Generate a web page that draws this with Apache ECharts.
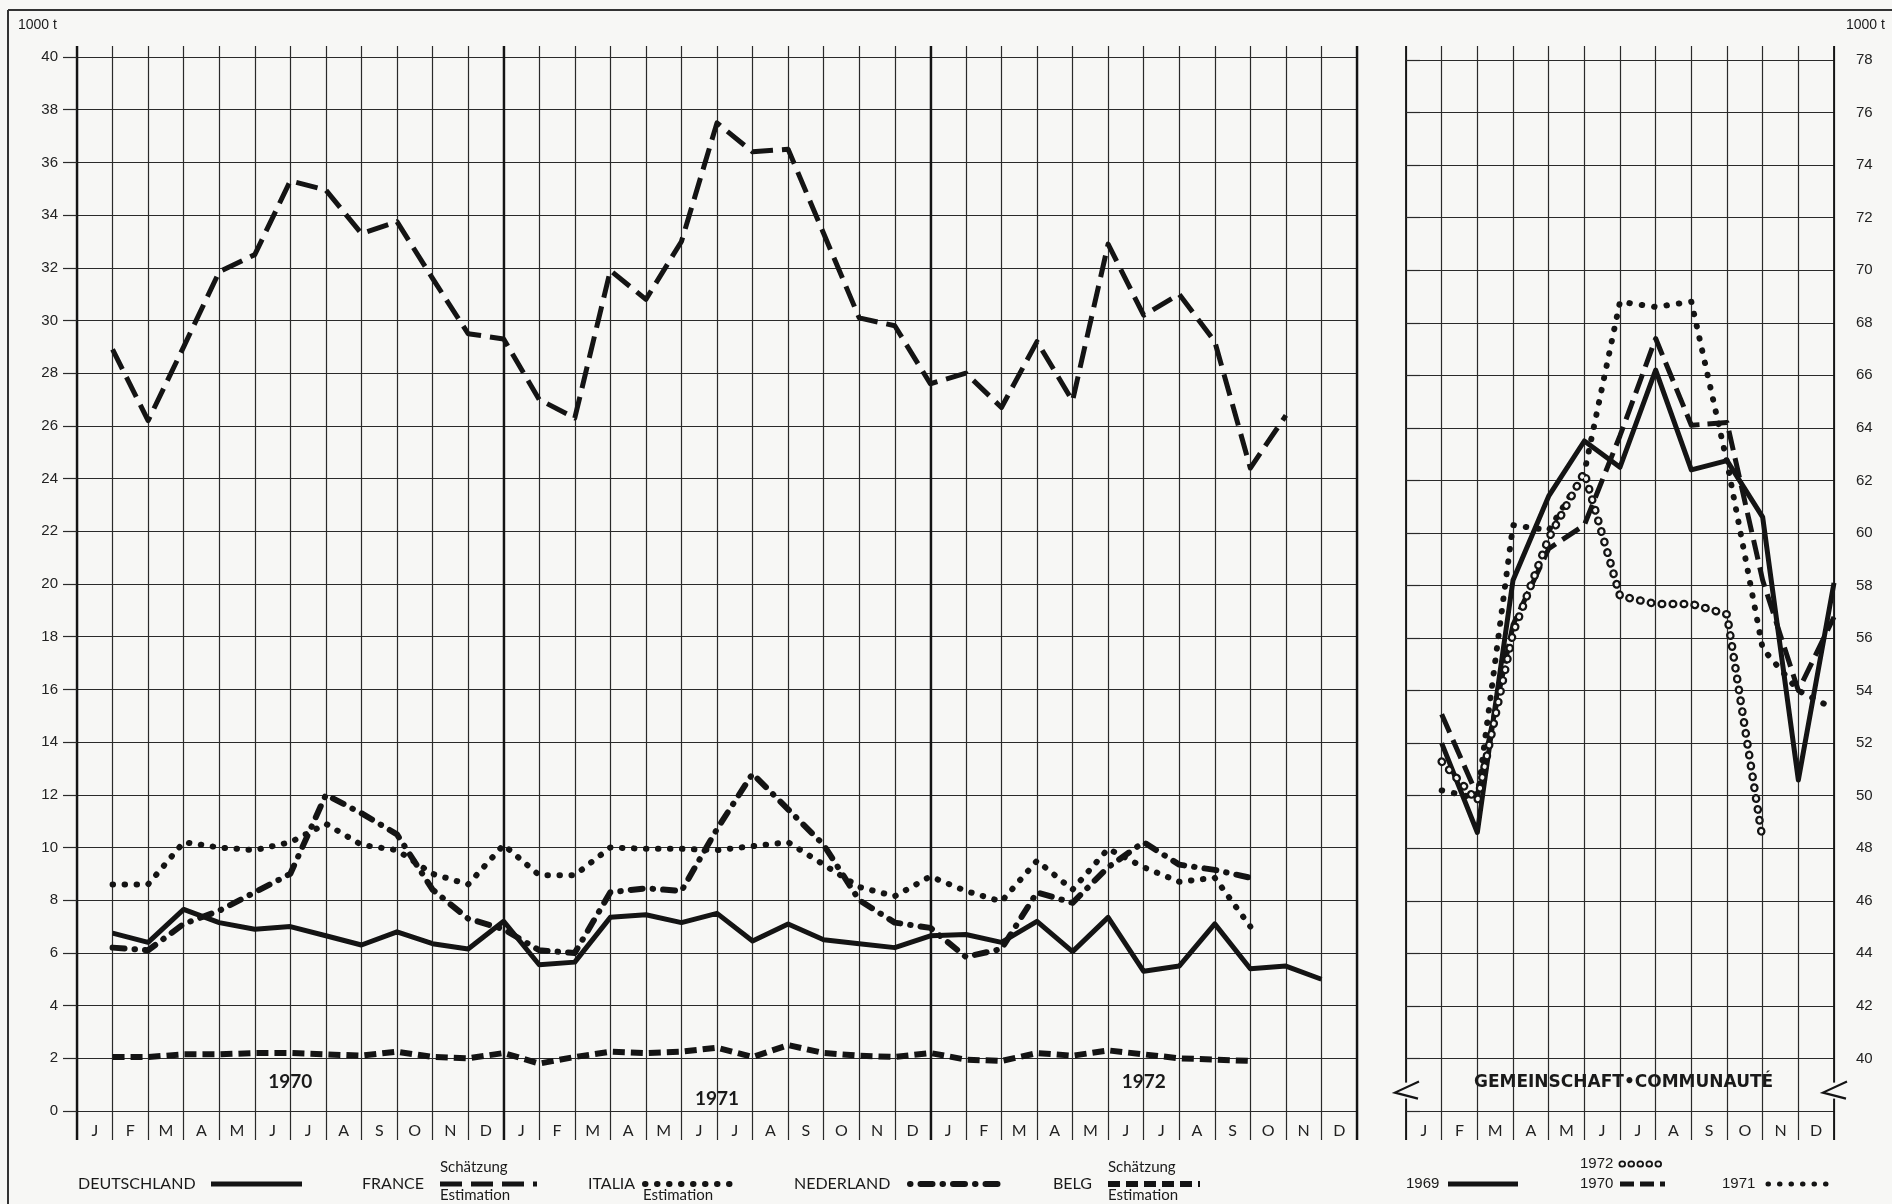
<!DOCTYPE html>
<html><head><meta charset="utf-8">
<script src="https://cdn.jsdelivr.net/npm/echarts@6/dist/echarts.min.js"></script>
<style>html,body{margin:0;padding:0;background:#f7f7f5;} #c{width:1892px;height:1204px;}</style>
</head><body><div id="c"></div>
<script>
// ---- data ----
const monthLabels = ['J','F','M','A','M','J','J','A','S','O','N','D'];
const yearLabels = ['1970','1971','1972'];
const deutschland = [6.75,6.4,7.65,7.15,6.9,7.0,6.65,6.3,6.8,6.35,6.15,7.2,
                     5.55,5.65,7.35,7.45,7.15,7.5,6.45,7.1,6.5,6.35,6.2,6.65,
                     6.7,6.4,7.2,6.05,7.35,5.3,5.5,7.1,5.4,5.5,5.0,null];
const france = [28.9,26.2,29.0,31.85,32.5,35.3,34.95,33.3,33.75,31.6,29.5,29.3,
                27.0,26.3,31.9,30.8,33.0,37.5,36.4,36.5,33.3,30.1,29.8,27.6,
                28.0,26.7,29.2,26.95,32.9,30.2,31.0,29.2,24.4,26.4,null,null];
const italia = [8.6,8.6,10.2,10.0,9.9,10.2,10.9,10.1,9.9,9.0,8.6,10.1,
                8.95,8.95,10.0,9.95,9.95,9.9,10.05,10.2,9.35,8.5,8.15,8.9,
                8.35,7.95,9.5,8.4,9.95,9.25,8.7,8.85,7.0,null,null,null];
const nederland = [6.2,6.1,7.1,7.6,8.3,9.0,12.0,11.3,10.5,8.4,7.3,6.9,
                   6.1,6.0,8.3,8.45,8.35,10.7,12.8,11.45,10.1,8.0,7.15,6.95,
                   5.85,6.15,8.3,7.9,9.25,10.2,9.35,9.15,8.85,null,null,null];
const belg = [2.05,2.05,2.15,2.15,2.2,2.2,2.15,2.1,2.25,2.05,2.0,2.2,
              1.8,2.05,2.25,2.2,2.25,2.4,2.05,2.5,2.2,2.1,2.05,2.2,
              1.95,1.9,2.2,2.1,2.3,2.15,2.0,1.95,1.9,null,null,null];
const eg1969 = [52.0,48.6,58.2,61.4,63.5,62.5,66.2,62.4,62.75,60.6,50.6,58.1];
const eg1970 = [53.1,50.0,56.5,59.4,60.3,63.7,67.4,64.1,64.2,58.2,54.0,56.8];
const eg1971 = [50.2,49.9,60.3,60.1,62.3,68.8,68.6,68.8,62.7,55.6,54.0,53.3];
const eg1972 = [51.3,49.8,56.2,59.8,62.3,57.6,57.3,57.3,56.9,48.3];

// ---- helpers ----
const INK = '#141414', BG = '#f7f7f5', GRID = '#2a2a2a';
const pts = arr => arr.map((v,i) => v == null ? null : [i + 1, v]).filter(p => p);
const monthCats36 = [].concat(monthLabels, monthLabels, monthLabels);
const numFont = "'Liberation Sans Narrow','Liberation Sans',Arial,sans-serif";
const txtFont = "Lato,'DejaVu Sans',sans-serif";

function line(name, data, xi, yi, ls) {
  return { name, type: 'line', xAxisIndex: xi, yAxisIndex: yi, data, symbol: 'none',
    silent: true, z: 5, lineStyle: Object.assign({ color: INK, width: 5, join: 'round' }, ls) };
}

const chart = echarts.init(document.getElementById('c'), null, { renderer: 'canvas' });
const option = {
  backgroundColor: BG,
  animation: false,
  grid: [
    { left: 77, top: 57, width: 1280, height: 1054 },
    { left: 77, top: 46, width: 1280, height: 1094 },
    { left: 1406, top: 60, width: 428, height: 1051 },
    { left: 1406, top: 46, width: 428, height: 1094 }
  ],
  xAxis: [
    { gridIndex: 0, type: 'category', data: monthCats36, boundaryGap: true,
      axisLine: { show: false }, axisTick: { show: false }, splitLine: { show: false },
      axisLabel: { margin: 12, fontSize: 16, color: '#222', fontFamily: txtFont, interval: 0 } },
    { gridIndex: 0, type: 'value', min: 0, max: 36, show: false },
    { gridIndex: 1, type: 'value', min: 0, max: 36, interval: 1, axisLine: { show: false },
      axisTick: { show: false }, axisLabel: { show: false },
      splitLine: { show: true, lineStyle: { color: GRID, width: 1.2 } } },
    { gridIndex: 1, type: 'value', min: 0, max: 36, interval: 12, axisLine: { show: false },
      axisTick: { show: false }, axisLabel: { show: false },
      splitLine: { show: true, lineStyle: { color: INK, width: 2.4 } } },
    { gridIndex: 2, type: 'category', data: monthLabels, boundaryGap: true,
      axisLine: { show: false }, axisTick: { show: false }, splitLine: { show: false },
      axisLabel: { margin: 12, fontSize: 16, color: '#222', fontFamily: txtFont, interval: 0 } },
    { gridIndex: 2, type: 'value', min: 0, max: 12, show: false },
    { gridIndex: 3, type: 'value', min: 0, max: 12, interval: 1, axisLine: { show: false },
      axisTick: { show: false }, axisLabel: { show: false },
      splitLine: { show: true, lineStyle: { color: GRID, width: 1.2 } } },
    { gridIndex: 3, type: 'value', min: 0, max: 12, interval: 12, axisLine: { show: false },
      axisTick: { show: false }, axisLabel: { show: false },
      splitLine: { show: true, lineStyle: { color: INK, width: 1.8 } } }
  ],
  yAxis: [
    { gridIndex: 0, type: 'value', min: 0, max: 40, interval: 2,
      axisLine: { show: false },
      axisTick: { show: true, length: 14, lineStyle: { color: GRID, width: 1.2 } },
      axisLabel: { margin: 19, fontSize: 15, color: '#222', fontFamily: numFont },
      splitLine: { show: true, lineStyle: { color: GRID, width: 1.2 } } },
    { gridIndex: 1, type: 'value', min: 0, max: 1, show: false },
    { gridIndex: 2, type: 'value', min: 38, max: 78, interval: 2, position: 'right',
      axisLine: { show: false },
      axisTick: { show: true, length: 14, lineStyle: { color: GRID, width: 1.2 } },
      axisLabel: { margin: 22, fontSize: 15, color: '#222', fontFamily: numFont,
        formatter: v => (v === 38 ? '' : String(v)) },
      splitLine: { show: true, lineStyle: { color: GRID, width: 1.2 } } },
    { gridIndex: 3, type: 'value', min: 0, max: 1, show: false }
  ],
  series: [
    line('DEUTSCHLAND', pts(deutschland), 1, 0, { type: 'solid' }),
    line('FRANCE', pts(france), 1, 0, { type: [22, 9], cap: 'butt' }),
    line('ITALIA', pts(italia), 1, 0, { width: 6, type: [0.5, 11.5], cap: 'round' }),
    line('NEDERLAND', pts(nederland), 1, 0, { width: 6, type: [12, 10, 0.5, 10], cap: 'round' }),
    line('BELG', pts(belg), 1, 0, { width: 6, type: [12, 6], cap: 'butt' }),
    line('1969', pts(eg1969), 5, 2, { type: 'solid' }),
    line('1970', pts(eg1970), 5, 2, { type: [20, 8], cap: 'butt' }),
    line('1971', pts(eg1971), 5, 2, { width: 6, type: [0.5, 12], cap: 'round' }),
    line('1972', pts(eg1972), 5, 2, { width: 8.5, type: [0.5, 10.5], cap: 'round' }),
    Object.assign(line('1972 inner', pts(eg1972), 5, 2, { width: 4, type: [0.5, 10.5], cap: 'round', color: BG }), { z: 6 })
  ]
};
chart.setOption(option);

// ---- annotations / legend ----
const g = [];
function txt(text, x, y, size, opts) {
  opts = opts || {};
  g.push({ type: 'text', z: 20, silent: true, style: {
    text, x, y, fill: opts.fill || '#1a1a1a',
    font: (opts.weight || 'normal') + ' ' + size + 'px ' + (opts.family || txtFont),
    align: opts.align || 'left', verticalAlign: 'middle',
    textAlign: opts.align || 'left', textVerticalAlign: 'middle' } });
}
function sample(x1, x2, y, style) {
  g.push({ type: 'line', z: 20, silent: true, shape: { x1, y1: y, x2, y2: y },
    style: Object.assign({ stroke: INK, lineWidth: 5 }, style) });
}
// frame
g.push({ type: 'line', silent: true, z: 1, shape: { x1: 8, y1: 10, x2: 1892, y2: 10 }, style: { stroke: '#333', lineWidth: 2 } });
g.push({ type: 'line', silent: true, z: 1, shape: { x1: 8, y1: 10, x2: 8, y2: 1204 }, style: { stroke: '#333', lineWidth: 2 } });
// unit labels
txt('1000 t', 18, 25, 14, { family: numFont });
txt('1000 t', 1846, 25, 14, { family: numFont });
// year labels, centred on each year's middle
const yearLabelVals = [1.1, 0.45, 1.1];
yearLabels.forEach((yl, i) => {
  const p = chart.convertToPixel({ xAxisIndex: 1, yAxisIndex: 0 }, [i * 12 + 6, yearLabelVals[i]]);
  txt(yl, p[0], p[1], 19, { weight: 'bold', align: 'center' });
});
// community title
{
  const p = chart.convertToPixel({ xAxisIndex: 5, yAxisIndex: 2 }, [6.1, 39.1]);
  txt('GEMEINSCHAFT\u2022COMMUNAUTÉ', p[0], p[1], 17, { weight: 'bold', align: 'center', family: "'DejaVu Sans',sans-serif" });
}
// break marks on the community panel
[0, 12].forEach(m => {
  const p = chart.convertToPixel({ xAxisIndex: 5, yAxisIndex: 2 }, [m, 38.7]);
  g.push({ type: 'rect', silent: true, z: 15, shape: { x: p[0] - 3, y: p[1] - 10, width: 6, height: 16 }, style: { fill: BG } });
  g.push({ type: 'polyline', silent: true, z: 16, shape: { points: [[p[0] + 13, p[1] - 11], [p[0] - 11, p[1]], [p[0] + 12, p[1] + 6]] },
    style: { stroke: INK, lineWidth: 2.2, fill: null } });
});
// legend – countries
const LY = 1184;
txt('DEUTSCHLAND', 78, LY, 16);
sample(211, 302, LY, {});
txt('FRANCE', 362, LY, 16);
txt('Schätzung', 440, 1167, 15);
sample(440, 537, LY, { lineDash: [22, 9] });
txt('Estimation', 440, 1195, 15);
txt('ITALIA', 588, LY, 16);
sample(645, 732, LY, { lineWidth: 6, lineDash: [0.5, 11.5], lineCap: 'round' });
txt('Estimation', 643, 1195, 15);
txt('NEDERLAND', 794, LY, 16);
sample(910, 1001, LY, { lineWidth: 6, lineDash: [0.5, 10, 12, 10], lineCap: 'round' });
txt('BELG', 1053, LY, 16);
txt('Schätzung', 1108, 1167, 15);
sample(1108, 1200, LY, { lineWidth: 6, lineDash: [12, 6] });
txt('Estimation', 1108, 1195, 15);
// legend – community years
txt('1969', 1406, LY, 15, { family: numFont });
sample(1448, 1518, LY, {});
txt('1972', 1580, 1164, 15, { family: numFont });
sample(1622, 1665, 1164, { lineWidth: 7, lineDash: [0.5, 8.5], lineCap: 'round' });
sample(1622, 1665, 1164, { lineWidth: 3.5, lineDash: [0.5, 8.5], lineCap: 'round', stroke: BG });
txt('1970', 1580, LY, 15, { family: numFont });
sample(1620, 1665, LY, { lineDash: [14, 6] });
txt('1971', 1722, LY, 15, { family: numFont });
sample(1768, 1834, LY, { lineWidth: 5, lineDash: [0.5, 11], lineCap: 'round' });

chart.setOption({ graphic: g });
</script>
</body></html>
